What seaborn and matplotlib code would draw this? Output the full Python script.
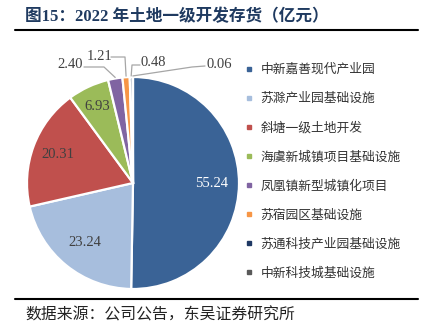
import matplotlib
matplotlib.use("Agg")
import matplotlib.pyplot as plt
import seaborn as sns
import numpy as np

categories = ["中新嘉善现代产业园", "苏滁产业园基础设施", "斜塘一级土地开发", "海虞新城镇项目基础设施",
              "凤凰镇新型城镇化项目", "苏宿园区基础设施", "苏通科技产业园基础设施", "中新科技城基础设施"]
values = [55.24, 23.24, 20.31, 6.93, 2.40, 1.21, 0.48, 0.06]
value_labels = ["55.24", "23.24", "20.31", "6.93", "2.40", "1.21", "0.48", "0.06"]
colors = ["#3A6396", "#A7BEDD", "#C0504D", "#9BBB59", "#8064A2", "#F79646", "#1F3864", "#595959"]

sns.set_theme(style="white")
plt.rcParams['font.family'] = ['Noto Sans CJK SC', 'DejaVu Sans']

W, H = 434, 334
fig = plt.figure(figsize=(W / 100, H / 100), dpi=100)
fig.patch.set_facecolor("white")

def fx(px):
    return px / W

def fy(py):
    return 1 - py / H

# Title and rules
fig.text(fx(25), fy(17), "图15：2022 年土地一级开发存货（亿元）", ha="left", va="center",
         fontsize=12, fontweight="bold", color="#1F3A60",
         family=['Liberation Serif', 'Noto Sans CJK SC'])
fig.add_artist(plt.Line2D([fx(15), fx(418)], [fy(30), fy(30)], color="black", lw=1.5))
fig.add_artist(plt.Line2D([fx(15), fx(418)], [fy(299), fy(299)], color="black", lw=1.5))
fig.text(fx(25), fy(315), "数据来源：公司公告，东吴证券研究所", ha="left", va="center",
         fontsize=11.4, color="#222222")

# Pie
cx, cy, R = 133, 183, 106
ax = fig.add_axes([fx(cx - R), fy(cy + R), 2 * R / W, 2 * R / H])
wedges, _ = ax.pie(values, colors=colors, startangle=90, counterclock=False, radius=1,
                   wedgeprops=dict(edgecolor="white", linewidth=1.6))
ax.set_xlim(-1, 1)
ax.set_ylim(-1, 1)
ax.axis("off")

label_font = dict(family=['Liberation Serif', 'DejaVu Serif'], fontsize=10.5)

# inside labels
inner_r = [0.74, 0.72, 0.76, 0.80]
inner_col = ["white", "#404040", "#404040", "#404040"]
for i in range(4):
    w = wedges[i]
    th = np.deg2rad((w.theta1 + w.theta2) / 2)
    ax.text(inner_r[i] * np.cos(th), inner_r[i] * np.sin(th), value_labels[i],
            ha="center", va="center", color=inner_col[i], **label_font)

def d(px, py):
    return ((px - cx) / R, (cy - py) / R)

# outside labels (pixel layout positions) and leader elbows
text_pos = [d(70, 65), d(100, 56), d(153, 62), d(219, 64)]
elbows = [[d(84, 67), d(104, 67)], [d(111, 57), d(125, 57)], [d(140, 65), d(132, 65)],
          [d(205, 66), d(192, 67)]]
for k, i in enumerate(range(4, 8)):
    w = wedges[i]
    th = np.deg2rad((w.theta1 + w.theta2) / 2)
    ex, ey = 1.0 * np.cos(th), 1.0 * np.sin(th)
    tx, ty = text_pos[k]
    ax.text(tx, ty, value_labels[i], ha="center", va="center", color="#404040",
            clip_on=False, **label_font)
    pts = elbows[k] + [(ex, ey + 0.01)]
    xs = [p[0] for p in pts]
    ys = [p[1] for p in pts]
    ax.plot(xs, ys, color="#A6A6A6", lw=0.9, clip_on=False)

# Legend
handles = [plt.Line2D([0], [0], marker="s", linestyle="none", markersize=3.5,
                      markerfacecolor=c, markeredgecolor=c) for c in colors]
fig.legend(handles, categories, loc="upper left", bbox_to_anchor=(fx(240), fy(58)),
           frameon=False, fontsize=9.2, handlelength=0.6, handletextpad=0.6,
           labelspacing=1.26, borderaxespad=0, labelcolor="#333333")

fig.savefig("out.png", dpi=100, facecolor="white")
